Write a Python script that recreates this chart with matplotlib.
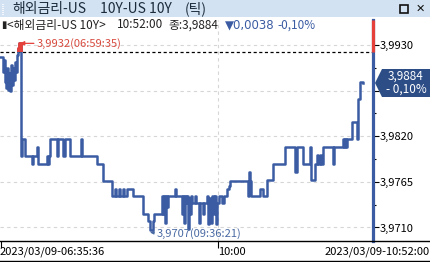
import matplotlib
matplotlib.use('Agg')
import matplotlib.pyplot as plt
from matplotlib.patches import Rectangle, Polygon
from matplotlib.lines import Line2D

plt.rcParams['font.family'] = ['Noto Sans CJK KR', 'DejaVu Sans']

# tick sequence number (x axis is tick based, not time based) and price
tick_no = [0, 3, 4, 5, 6, 7, 8, 9, 10, 11, 12, 13, 14, 15, 16, 17, 18, 19,
           21, 22, 25, 32, 33, 37, 38, 47, 48, 49, 50, 57, 58, 63, 65, 70,
           81, 82, 97, 103, 112, 115, 116, 119, 120, 123, 124, 127, 133,
           143, 148, 150, 153, 154, 162, 163, 164, 165, 166, 167, 168, 175,
           176, 182, 183, 184, 185, 186, 187, 188, 189, 190, 191, 192, 195,
           196, 199, 200, 203, 204, 207, 208, 209, 211, 212, 214, 215, 216,
           217, 219, 222, 224, 227, 229, 230, 248, 249, 250, 251, 260, 263,
           267, 273, 285, 295, 297, 303, 310, 311, 315, 317, 318, 320, 321,
           323, 333, 334, 343, 344, 345, 346, 347, 349, 352, 357, 358, 360,
           363]
price = [3.9916, 3.9898, 3.9912, 3.9886, 3.9878, 3.9902, 3.9876, 3.9896,
         3.9875, 3.9906, 3.9882, 3.9902, 3.9888, 3.9910, 3.9898, 3.9918,
         3.9926, 3.9932,
         3.9796, 3.9817, 3.9796, 3.9786, 3.9796, 3.9807, 3.9786, 3.9796,
         3.9786, 3.9796, 3.9817, 3.9796, 3.9817, 3.9796, 3.9817, 3.9796,
         3.9817, 3.9796, 3.9786, 3.9766, 3.9748, 3.9756, 3.9748, 3.9756,
         3.9748, 3.9756, 3.9748, 3.9756, 3.9748,
         3.9726, 3.9718, 3.9707, 3.9718, 3.9726, 3.9748, 3.9726, 3.9748,
         3.9716, 3.9748, 3.9735, 3.9748, 3.9756,
         3.9748, 3.9726, 3.9748, 3.9716, 3.9748, 3.9739, 3.9748, 3.9708,
         3.9745, 3.9726, 3.9748, 3.9739, 3.9748,
         3.9739, 3.9716, 3.9739, 3.9726, 3.9739, 3.9748, 3.9714, 3.9745,
         3.9716, 3.9748, 3.9726, 3.9748, 3.9714,
         3.9739, 3.9748, 3.9739, 3.9748, 3.9757, 3.9760, 3.9766, 3.9748,
         3.9777, 3.9766, 3.9748, 3.9757, 3.9748,
         3.9767, 3.9787, 3.9807, 3.9777, 3.9807, 3.9787, 3.9807, 3.9767,
         3.9787, 3.9797, 3.9787, 3.9797, 3.9787,
         3.9807, 3.9787, 3.9807, 3.9817, 3.9807, 3.9817, 3.9807, 3.9817,
         3.9817, 3.9837, 3.9817, 3.9865, 3.9886,
         3.9884]

prev_close = 3.9922
last_price = '3,9884'
change = '0,0038'
change_pct = '- 0,10%'
hi_idx, hi_val, hi_label = 19, 3.9932, '3,9932(06:59:35)'
lo_idx, lo_val, lo_label = 150, 3.9707, '3,9707(09:36:21)'
ytick_vals = [3.9710, 3.9765, 3.9820, 3.9875, 3.9930]
ytick_labels = ['3,9710', '3,9765', '3,9820', '', '3,9930']  # 3,9875 sits under the price box
yminor_vals = [3.97375, 3.97925, 3.98475, 3.99025]
xtick_pos = [1, 218]
xtick_labels = ['2023/03/09-06:35:36', '10:00']
end_label = '2023/03/09-10:52:00'

blue = '#3b5ca3'
red = '#e5403a'
W, H = 430, 262


def fx(x):
    return x / W


def fy(y):
    return 1 - y / H


fig = plt.figure(figsize=(W / 100, H / 100), dpi=100)
fig.patch.set_facecolor('white')

# window title bar
fig.add_artist(Rectangle((0, fy(17)), 1, 17 / H, transform=fig.transFigure,
                         facecolor='#d2e2f2', edgecolor='none'))
for yy in range(4, 15, 2):
    fig.add_artist(Rectangle((fx(2), fy(yy + 1)), 1.5 / W, 1 / H,
                             transform=fig.transFigure, facecolor='#f4f8fc',
                             edgecolor='none'))
fig.text(fx(12), fy(9), '해외금리-US', fontsize=10, color='#1b2b3c', va='center')
fig.text(fx(100), fy(9), '10Y-US 10Y', fontsize=10, color='#1b2b3c', va='center')
fig.text(fx(185), fy(9), '(틱)', fontsize=10, color='#1b2b3c', va='center')
fig.add_artist(Rectangle((fx(400), fy(13)), 8 / W, 8 / H, transform=fig.transFigure,
                         facecolor='none', edgecolor='#111111', lw=1.2))
fig.text(fx(420), fy(9), '✕', fontsize=8, color='#111111', va='center', ha='center',
         family='DejaVu Sans')

# chart area
ax = fig.add_axes([0, fy(241), 373 / W, 221 / H])
ax.set_facecolor('white')
ax.set_xlim(0, 373)
ax.set_ylim(3.969372, 3.996014)

for v in ytick_vals:
    ax.axhline(v, color='#d6d6d6', lw=0.8, ls=(0, (3, 3)), zorder=1)
ax.axvline(xtick_pos[1], color='#d6d6d6', lw=0.8, ls=(0, (3, 3)), zorder=1)
ax.axhline(prev_close, color='black', lw=0.9, ls=(0, (2.5, 2)), zorder=2)

ax.plot(tick_no, price, drawstyle='steps-post', color=blue, lw=1.8, zorder=3)
red_part, = ax.plot(tick_no, price, drawstyle='steps-post', color=red, lw=2.0,
                    zorder=4)
clip = Rectangle((0, prev_close), 373, 0.01, transform=ax.transData)
red_part.set_clip_path(clip)

ax.annotate(hi_label, xy=(hi_idx + 1, hi_val), xytext=(12, 0),
            textcoords='offset points', ha='left', va='center', fontsize=8,
            color='#d84a3e', annotation_clip=False,
            arrowprops=dict(arrowstyle='-|>', color=red, lw=0.9,
                            mutation_scale=6, shrinkA=0, shrinkB=0))
ax.annotate(lo_label, xy=(lo_idx, lo_val - 0.0003), xytext=(5, -1),
            textcoords='offset points', ha='left', va='center', fontsize=8,
            color='#4a6aa3', annotation_clip=False,
            arrowprops=dict(arrowstyle='-|>', color='#4a6aa3', lw=0.8,
                            mutation_scale=5, shrinkA=0, shrinkB=0))

for s in ['top', 'left', 'bottom']:
    ax.spines[s].set_visible(False)
ax.spines['right'].set_color(blue)
ax.spines['right'].set_linewidth(2.3)
ax.plot([373, 373], [prev_close, 3.996014], color=red, lw=2.3, clip_on=False,
        zorder=5, solid_capstyle='butt')

ax.yaxis.tick_right()
ax.set_yticks(ytick_vals)
ax.set_yticklabels(ytick_labels, fontsize=8)
ax.set_yticks(yminor_vals, minor=True)
ax.tick_params(axis='y', which='major', length=4, width=0.8, pad=1, color='black')
ax.tick_params(axis='y', which='minor', length=2, width=0.8, color='black')
ax.set_xticks(xtick_pos)
ax.set_xticklabels([])
ax.tick_params(axis='x', length=5, width=0.8, direction='out', color='black')

# bottom axis line and date labels
fig.add_artist(Line2D([0, 1], [fy(241), fy(241)], transform=fig.transFigure,
                      color='black', lw=1.0))
fig.add_artist(Line2D([0, 1], [fy(261), fy(261)], transform=fig.transFigure,
                      color='black', lw=1.0))
fig.text(fx(0), fy(252), xtick_labels[0], fontsize=8, va='center', ha='left')
fig.text(fx(218), fy(252), xtick_labels[1], fontsize=8, va='center', ha='left')
fig.text(fx(430), fy(252), end_label, fontsize=8, va='center', ha='right')

# header line
fig.text(fx(1), fy(25), '▮', fontsize=7, va='center', color='#222222',
         family='DejaVu Sans')
fig.text(fx(7), fy(25), '<해외금리-US 10Y>', fontsize=8.5, va='center',
         color='#222222')
fig.text(fx(117), fy(25), '10:52:00', fontsize=8.5, va='center', color='#222222')
fig.text(fx(168), fy(25), '종:3,9884', fontsize=8.5, va='center', color='#222222')
fig.text(fx(225), fy(25), '▼' + change, fontsize=8.5, va='center', color='#3b5ca3',
         family=['DejaVu Sans'])
fig.text(fx(277), fy(25), '-0,10%', fontsize=8.5, va='center', color='#3b5ca3')

# last price box
box = Polygon([(fx(375), fy(83)), (fx(382), fy(69)), (fx(430), fy(69)),
               (fx(430), fy(97)), (fx(382), fy(97))], closed=True,
              transform=fig.transFigure, facecolor='#2c4d86', edgecolor='none',
              zorder=10)
fig.add_artist(box)
fig.text(fx(406), fy(76.5), last_price, fontsize=8.5, va='center', ha='center',
         color='white', zorder=11)
fig.text(fx(406), fy(89.5), change_pct, fontsize=8.5, va='center', ha='center',
         color='white', zorder=11)

fig.savefig('out.png', dpi=100)
